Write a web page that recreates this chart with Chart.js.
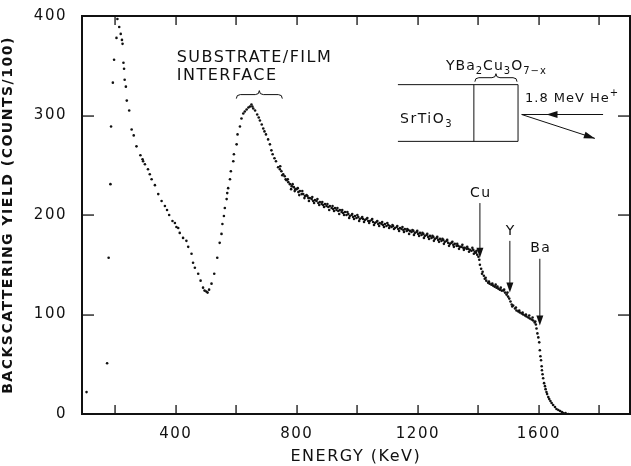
<!DOCTYPE html>
<html>
<head>
<meta charset="utf-8">
<script src="https://cdn.jsdelivr.net/npm/chart.js@4.4.1/dist/chart.umd.min.js"></script>
<style>
  html, body { margin: 0; padding: 0; background: #fff; }
  #wrap { width: 631px; height: 466px; }
</style>
</head>
<body>
<div id="wrap"><canvas id="rbsChart"></canvas></div>
<script>
// backscattering spectrum (energy in keV, yield in counts/100)
const energyKeV = [
  105, 173, 178, 184, 186, 192, 196, 204,
  207, 213, 218, 222, 224, 227, 229, 231, 235, 238, 246, 254, 261, 270, 283, 290,
  292, 298, 308, 314, 320, 331, 342, 353, 364, 371, 378, 389, 397, 402, 408, 413,
  424, 435, 441, 452, 457, 463, 474, 482, 490, 495, 501, 505, 510, 518, 527, 537,
  545, 551, 554, 559, 562, 568, 570, 573, 579, 582, 590, 592, 601, 604, 612, 617,
  623, 628, 634, 640, 645, 650, 653, 656, 662, 669, 674, 678, 684, 689, 693, 698,
  705, 711, 716, 720, 726, 731, 738, 744, 749, 755, 760, 766, 772, 777, 783, 790,
  795, 799, 805, 810, 816, 821, 827, 832, 838, 843, 849, 854, 860, 865, 871, 876,
  882, 887, 893, 898, 904, 909, 915, 920, 926, 931, 937, 942, 948, 953, 959, 964,
  970, 975, 981, 986, 992, 997, 1003, 1008, 1014, 1019, 1025, 1030, 1036, 1041, 1047, 1052,
  1058, 1063, 1069, 1074, 1080, 1085, 1091, 1096, 1102, 1107, 1113, 1118, 1124, 1130, 1135, 1141,
  1146, 1152, 1157, 1163, 1168, 1174, 1179, 1185, 1190, 1196, 1201, 1207, 1212, 1218, 1223, 1229,
  1234, 1240, 1245, 1251, 1256, 1262, 1267, 1273, 1278, 1284, 1289, 1295, 1300, 1306, 1311, 1317,
  1322, 1328, 1333, 1339, 1344, 1350, 1355, 1361, 1366, 1372, 1377, 1383, 1388, 1392, 1396, 1400,
  1403, 1405, 1409, 1414, 1418, 1421, 1426, 1432, 1437, 1443, 1449, 1454, 1460, 1466, 1471, 1477,
  1482, 1488, 1493, 1498, 1502, 1506, 1510, 1515, 1521, 1526, 1532, 1537, 1543, 1548, 1554, 1559,
  1565, 1570, 1576, 1581, 1586, 1590, 1592, 1595, 1598, 1601, 1603, 1605, 1607, 1609, 1610, 1612,
  1614, 1617, 1620, 1622, 1625, 1627, 1631, 1634, 1638, 1642, 1647, 1653, 1658, 1664, 1670, 1676,
  1681, 1688, 1697
];
const yieldCounts = [
  22, 51, 157, 231, 289, 333, 356, 378,
  397, 389, 382, 376, 372, 353, 347, 336, 329, 315, 305, 286, 280, 269, 260, 256,
  254, 251, 246, 241, 236, 230, 221, 214, 209, 205, 200, 194, 192, 188, 187, 182,
  177, 174, 168, 161, 152, 147, 141, 134, 127, 124, 123, 122, 125, 131, 141, 157,
  172, 181, 191, 199, 207, 216, 222, 227, 236, 244, 254, 261, 271, 281, 289, 297,
  302, 304, 306, 308, 309, 311, 309, 307, 305, 301, 298, 295, 291, 287, 284, 281,
  276, 271, 265, 261, 257, 254, 248, 246, 244, 241, 239, 235, 233, 231, 229, 228,
  226, 226, 223, 224, 221, 221, 219, 220, 217, 217, 216, 214, 215, 214, 212, 213,
  211, 210, 211, 209, 208, 209, 207, 206, 207, 205, 204, 205, 203, 202, 203, 200,
  201, 199, 200, 198, 199, 197, 198, 196, 197, 196, 195, 196, 194, 194, 195, 193,
  192, 193, 191, 192, 191, 190, 191, 189, 190, 189, 188, 189, 187, 188, 186, 187,
  186, 185, 186, 184, 185, 184, 183, 184, 182, 183, 181, 182, 180, 181, 179, 180,
  178, 179, 177, 178, 176, 177, 175, 176, 174, 175, 173, 174, 172, 171, 172, 170,
  171, 169, 169, 168, 168, 167, 167, 166, 166, 165, 164, 165, 163, 162, 160, 158,
  155, 150, 146, 143, 139, 136, 134, 132, 131, 130, 129, 128, 127, 126, 125, 124,
  124, 122, 120, 118, 116, 113, 110, 109, 106, 104, 103, 102, 101, 100, 99, 98,
  97, 96, 95, 94, 92, 90, 86, 81, 77, 72, 64, 58, 54, 48, 44, 40,
  36, 31, 28, 25, 22, 20, 17, 15, 13, 11, 9, 7, 5, 4, 3, 2,
  1, 1, 0
];

// the extra channels that make the film plateau look like a thick band
const bandEnergyKeV = [
  745, 752, 763, 770, 781, 786, 793, 803, 808, 818, 825, 835, 840, 851, 857, 868,
  874, 884, 890, 901, 907, 918, 923, 934, 940, 950, 956, 967, 973, 983, 989, 1000,
  1006, 1016, 1022, 1033, 1039, 1049, 1055, 1066, 1072, 1082, 1088, 1099, 1105, 1116, 1121, 1132,
  1138, 1149, 1154, 1165, 1171, 1182, 1187, 1198, 1204, 1215, 1220, 1231, 1237, 1248, 1253, 1264,
  1270, 1281, 1286, 1297, 1303, 1314, 1319, 1330, 1336, 1347, 1352, 1363, 1369, 1380, 1385, 1394,
  1412, 1424, 1435, 1446, 1457, 1463, 1474, 1485, 1496, 1512, 1524, 1535, 1546, 1557, 1568, 1579, 1588
];
const bandYield = [
  249, 240, 236, 236, 226, 231, 224, 227, 220, 224, 217, 219, 214, 218, 212, 216,
  210, 213, 208, 211, 205, 209, 204, 207, 201, 205, 200, 203, 197, 201, 196, 200,
  194, 198, 193, 197, 192, 196, 190, 194, 189, 193, 188, 192, 187, 190, 186, 189,
  184, 188, 183, 186, 181, 185, 180, 184, 179, 182, 177, 181, 176, 179, 174, 178,
  173, 176, 171, 175, 169, 173, 168, 171, 166, 170, 165, 168, 163, 167, 161, 164,
  141, 137, 133, 131, 130, 128, 127, 125, 122, 108, 107, 104, 102, 100, 99, 97, 93
];

// element edges marked with arrows
const edgeLabels = ['Cu', 'Y', 'Ba'];
const edgeEnergy = [1405, 1504, 1603];
const edgeTipYield = [157, 122, 89];
const edgeTopYield = [212, 174, 156];

const xTickValues = [200, 400, 600, 800, 1000, 1200, 1400, 1600, 1800];
const xTickLabels = [400, 800, 1200, 1600];
const yTickValues = [0, 100, 200, 300, 400];

const FONT = '"DejaVu Sans", sans-serif';
const INK = '#111';

function toPoints(xs, ys) {
    return xs.map(function(e, i) { return {x: e, y: ys[i]}; });
}

function brace(ctx, x1, x2, y, h) {
    let m = (x1 + x2) / 2;
    ctx.beginPath();
    ctx.moveTo(x1, y + h);
    ctx.quadraticCurveTo(x1, y, x1 + h, y);
    ctx.lineTo(m - h, y);
    ctx.quadraticCurveTo(m, y, m, y - h);
    ctx.quadraticCurveTo(m, y, m + h, y);
    ctx.lineTo(x2 - h, y);
    ctx.quadraticCurveTo(x2, y, x2, y + h);
    ctx.stroke();
}

function arrowHead(ctx, x, y, ang, len, wid) {
    ctx.beginPath();
    ctx.moveTo(x, y);
    ctx.lineTo(x - len * Math.cos(ang) + wid * Math.sin(ang), y - len * Math.sin(ang) - wid * Math.cos(ang));
    ctx.lineTo(x - len * Math.cos(ang) - wid * Math.sin(ang), y - len * Math.sin(ang) + wid * Math.cos(ang));
    ctx.closePath();
    ctx.fill();
}

const spacingPlugin = {
    id: 'spacing',
    beforeUpdate(chart) { chart.ctx.letterSpacing = '1.5px'; },
    beforeDraw(chart) { chart.ctx.letterSpacing = '1.5px'; }
};

const framePlugin = {
    id: 'frame',
    afterDraw(chart) {
        const ctx = chart.ctx;
        const xs = chart.scales.x, ys = chart.scales.y;
        const X = v => xs.getPixelForValue(v);
        const Y = v => ys.getPixelForValue(v);
        const left = Math.round(xs.left), right = Math.round(xs.right);
        const top = Math.round(ys.top), bottom = Math.round(ys.bottom);

        ctx.save();
        ctx.fillStyle = INK;
        ctx.strokeStyle = INK;

        // frame, drawn as filled strips
        ctx.fillRect(left - 1, top - 1, right - left + 2, 2);
        ctx.fillRect(left - 1, bottom - 1, right - left + 2, 2);
        ctx.fillRect(left - 1, top - 1, 2, bottom - top + 2);
        ctx.fillRect(right - 1, top - 1, 2, bottom - top + 2);

        // inward ticks on all four sides
        xTickValues.forEach(function(v) {
            let px = Math.round(X(v));
            ctx.fillRect(px - 0.6, bottom - 9, 1.3, 9);
            ctx.fillRect(px - 0.6, top, 1.3, 9);
        });
        yTickValues.forEach(function(v) {
            let py = Math.round(Y(v));
            ctx.fillRect(left, py - 0.6, 12, 1.3);
            ctx.fillRect(right - 12, py - 0.6, 12, 1.3);
        });

        // element edge arrows
        ctx.lineWidth = 1;
        ctx.font = '14px ' + FONT;
        ctx.textAlign = 'center';
        ctx.textBaseline = 'bottom';
        edgeLabels.forEach(function(lbl, i) {
            let px = X(edgeEnergy[i]);
            let y0 = Y(edgeTopYield[i]), tip = Y(edgeTipYield[i]);
            ctx.beginPath();
            ctx.moveTo(px, y0); ctx.lineTo(px, tip - 6);
            ctx.stroke();
            arrowHead(ctx, px, tip, Math.PI / 2, 10, 3.5);
            ctx.fillText(lbl, px + 1, y0 - 3);
        });

        // substrate/film interface note
        ctx.font = '16px ' + FONT;
        ctx.textAlign = 'left';
        ctx.textBaseline = 'alphabetic';
        ctx.fillText('SUBSTRATE/FILM', X(403), Y(354));
        ctx.fillText('INTERFACE', X(403), Y(336));
        brace(ctx, X(600), X(752), Y(321), 4);

        // sample sketch
        let sl = X(1134), sf = X(1385), sr = X(1531);
        let st = Y(331), sb = Y(274);
        ctx.beginPath();
        ctx.moveTo(sl, st); ctx.lineTo(sr, st); ctx.lineTo(sr, sb); ctx.lineTo(sl, sb);
        ctx.moveTo(sf, st); ctx.lineTo(sf, sb);
        ctx.stroke();
        brace(ctx, sf + 1, sr - 1, Y(338), 4);

        ctx.font = '14px ' + FONT;
        ctx.fillText('SrTiO', X(1141), Y(292));
        let w = ctx.measureText('SrTiO').width;
        ctx.font = '10px ' + FONT;
        ctx.fillText('3', X(1141) + w, Y(288));

        // YBa2Cu3O7-x with subscripts
        ctx.letterSpacing = '1px';
        let parts = [['YBa', 0], ['2', 1], ['Cu', 0], ['3', 1], ['O', 0], ['7\u2212x', 1]];
        let cx = X(1293);
        parts.forEach(function(p) {
            ctx.font = (p[1] ? '10px ' : '14px ') + FONT;
            ctx.fillText(p[0], cx, Y(p[1] ? 342 : 346));
            cx += ctx.measureText(p[0]).width;
        });

        ctx.font = '13px ' + FONT;
        ctx.fillText('1.8 MeV He', X(1554), Y(314));
        let hw = ctx.measureText('1.8 MeV He').width;
        ctx.font = '10px ' + FONT;
        ctx.fillText('+', X(1554) + hw, Y(320));

        // beam in and out
        let ox = X(1543), oy = Y(301);
        ctx.beginPath();
        ctx.moveTo(ox, oy); ctx.lineTo(X(1812), oy);
        ctx.stroke();
        arrowHead(ctx, X(1625), oy, Math.PI, 11, 3.5);
        let ex = X(1785), ey = Y(277);
        ctx.beginPath();
        ctx.moveTo(ox, oy); ctx.lineTo(ex, ey);
        ctx.stroke();
        arrowHead(ctx, ex, ey, Math.atan2(ey - oy, ex - ox), 11, 3.5);
        ctx.restore();
    }
};

const dotStyle = {
    backgroundColor: INK,
    borderWidth: 0,
    pointRadius: 1.3,
    pointHoverRadius: 1.3
};

const chart = new Chart(document.getElementById('rbsChart'), {
    type: 'scatter',
    data: {
        datasets: [
            Object.assign({label: 'yield', data: toPoints(energyKeV, yieldCounts)}, dotStyle),
            Object.assign({label: 'band', data: toPoints(bandEnergyKeV, bandYield)}, dotStyle)
        ]
    },
    options: {
        responsive: true,
        maintainAspectRatio: false,
        animation: false,
        events: [],
        layout: {padding: {top: 14, right: 1, left: 0, bottom: 0}},
        plugins: {legend: {display: false}, tooltip: {enabled: false}},
        scales: {
            x: {
                type: 'linear',
                min: 90,
                max: 1900,
                grid: {display: false},
                border: {display: false},
                afterBuildTicks: s => { s.ticks = xTickValues.map(v => ({value: v})); },
                ticks: {
                    autoSkip: false,
                    maxRotation: 0,
                    padding: 3,
                    color: INK,
                    font: {family: FONT, size: 15},
                    callback: v => xTickLabels.includes(v) ? String(v) : ''
                },
                title: {
                    display: true,
                    text: 'ENERGY (KeV)',
                    color: INK,
                    font: {family: FONT, size: 16},
                    padding: {top: 0, bottom: 0}
                },
                afterFit: s => { s.height = 52; }
            },
            y: {
                min: 0,
                max: 400,
                grid: {display: false},
                border: {display: false},
                afterBuildTicks: s => { s.ticks = yTickValues.map(v => ({value: v})); },
                ticks: {
                    padding: 7,
                    color: INK,
                    font: {family: FONT, size: 15}
                },
                title: {
                    display: true,
                    text: 'BACKSCATTERING YIELD (COUNTS/100)',
                    color: INK,
                    font: {family: FONT, size: 14, weight: 'bold'},
                    padding: {top: 0, bottom: 0}
                },
                afterFit: s => { s.width = 82; }
            }
        }
    },
    plugins: [spacingPlugin, framePlugin]
});
</script>
</body>
</html>
